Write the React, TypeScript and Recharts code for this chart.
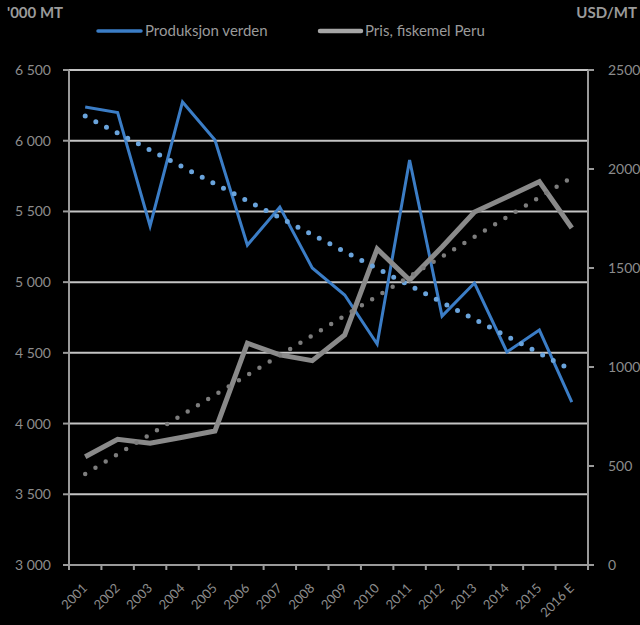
import React from "react";
import {
  CartesianGrid,
  Line,
  LineChart,
  XAxis,
  YAxis,
} from "recharts";

const years = [
  "2001", "2002", "2003", "2004", "2005", "2006", "2007", "2008",
  "2009", "2010", "2011", "2012", "2013", "2014", "2015", "2016 E",
];

// '000 MT, left axis
const produksjon = [
  6238, 6199, 5397, 6274, 6005, 5262, 5531, 5100,
  4909, 4562, 5864, 4760, 4994, 4506, 4661, 4152,
];

// USD/MT, right axis
const pris = [
  547, 635, 615, 645, 677, 1120, 1061, 1032,
  1162, 1596, 1439, 1606, 1783, 1859, 1936, 1702,
];

// linear trendlines, start and end values
const produksjonTrend = [6174, 4378];
const prisTrend = [460, 1957];

const leftTicks = [3000, 3500, 4000, 4500, 5000, 5500, 6000, 6500];
const rightTicks = [0, 500, 1000, 1500, 2000, 2500];

const data = years.map((year, i) => ({
  year,
  produksjon: produksjon[i],
  pris: pris[i],
  produksjonTrend:
    i === 0 ? produksjonTrend[0] : i === years.length - 1 ? produksjonTrend[1] : null,
  prisTrend: i === 0 ? prisTrend[0] : i === years.length - 1 ? prisTrend[1] : null,
}));

const FONT = "Lato, 'Noto Sans', sans-serif";
const LABEL = "#8c8c8c";
const AXIS = "#9a9a9a";
const BLUE = "#3b7dc6";
const BLUE_DOT = "#6aa4dc";
const GREY = "#8a8a8a";
const GREY_DOT = "#7d7d7d";

const fmtThousands = (v: number) =>
  v >= 1000 ? `${Math.floor(v / 1000)} ${String(v % 1000).padStart(3, "0")}` : String(v);

function YearTick(props: any) {
  const { x, y, payload, index, width, visibleTicksCount } = props;
  const band = width / visibleTicksCount;
  const axisY = y - 7;
  const tx = x + 3;
  const ty = y + 17;
  return (
    <g>
      <line x1={x - band / 2} x2={x - band / 2} y1={axisY} y2={axisY + 5} stroke={AXIS} strokeWidth={2} />
      {index === visibleTicksCount - 1 && (
        <line x1={x + band / 2} x2={x + band / 2} y1={axisY} y2={axisY + 5} stroke={AXIS} strokeWidth={2} />
      )}
      <text
        x={tx}
        y={ty}
        transform={`rotate(-45, ${tx}, ${ty})`}
        textAnchor="end"
        fill={LABEL}
        fontSize={13}
        fontFamily={FONT}
      >
        {payload.value}
      </text>
    </g>
  );
}

function LegendBox() {
  return (
    <svg width={640} height={24} style={{ position: "absolute", left: 0, top: 19 }}>
      <line x1={98} x2={141} y1={12} y2={12} stroke={BLUE} strokeWidth={3.5} strokeLinecap="round" />
      <text x={145} y={17} fill={AXIS} fontSize={15} fontFamily={FONT}>
        Produksjon verden
      </text>
      <line x1={320} x2={361} y1={12} y2={12} stroke="#a6a6a6" strokeWidth={4.5} strokeLinecap="round" />
      <text x={365} y={17} fill={AXIS} fontSize={15} fontFamily={FONT}>
        Pris, fiskemel Peru
      </text>
    </svg>
  );
}

export default function App() {
  return (
    <div
      style={{
        position: "absolute",
        left: 0,
        top: 0,
        width: 640,
        height: 625,
        background: "#000",
        fontFamily: FONT,
      }}
    >
      <div style={{ position: "absolute", left: 7, top: 3, color: AXIS, fontWeight: 700, fontSize: 15 }}>
        '000 MT
      </div>
      <div style={{ position: "absolute", right: 3, top: 3, color: AXIS, fontWeight: 700, fontSize: 15 }}>
        USD/MT
      </div>
      <LegendBox />
      <LineChart width={640} height={625} data={data} margin={{ top: 70, right: 0, bottom: 0, left: 0 }}>
        <CartesianGrid yAxisId="left" vertical={false} stroke="#c4c4c4" strokeWidth={2} />
        <XAxis
          dataKey="year"
          height={60}
          interval={0}
          padding={{ left: 16.2, right: 16.2 }}
          axisLine={{ stroke: AXIS, strokeWidth: 2 }}
          tickLine={false}
          tickSize={5}
          tickMargin={2}
          tick={<YearTick />}
        />
        <YAxis
          yAxisId="left"
          width={69}
          domain={[3000, 6500]}
          ticks={leftTicks}
          interval={0}
          tickFormatter={fmtThousands}
          axisLine={{ stroke: AXIS, strokeWidth: 2 }}
          tickLine={{ stroke: AXIS, strokeWidth: 2 }}
          tickSize={6}
          tickMargin={12}
          tick={{ fill: LABEL, fontSize: 14, fontFamily: FONT }}
        />
        <YAxis
          yAxisId="right"
          orientation="right"
          width={52}
          domain={[0, 2500]}
          ticks={rightTicks}
          interval={0}
          axisLine={{ stroke: AXIS, strokeWidth: 2 }}
          tickLine={{ stroke: AXIS, strokeWidth: 2 }}
          tickSize={6}
          tickMargin={14}
          tick={{ fill: LABEL, fontSize: 14, fontFamily: FONT }}
        />
        <Line
          yAxisId="left"
          dataKey="produksjon"
          stroke={BLUE}
          strokeWidth={3}
          dot={false}
          activeDot={false}
          isAnimationActive={false}
        />
        <Line
          yAxisId="right"
          dataKey="pris"
          stroke={GREY}
          strokeWidth={5}
          dot={false}
          activeDot={false}
          isAnimationActive={false}
        />
        <Line
          yAxisId="left"
          dataKey="produksjonTrend"
          connectNulls
          stroke={BLUE_DOT}
          strokeWidth={5}
          strokeDasharray="0 12"
          strokeLinecap="round"
          dot={false}
          activeDot={false}
          isAnimationActive={false}
        />
        <Line
          yAxisId="right"
          dataKey="prisTrend"
          connectNulls
          stroke={GREY_DOT}
          strokeWidth={4.5}
          strokeDasharray="0 12"
          strokeLinecap="round"
          dot={false}
          activeDot={false}
          isAnimationActive={false}
        />
      </LineChart>
    </div>
  );
}
